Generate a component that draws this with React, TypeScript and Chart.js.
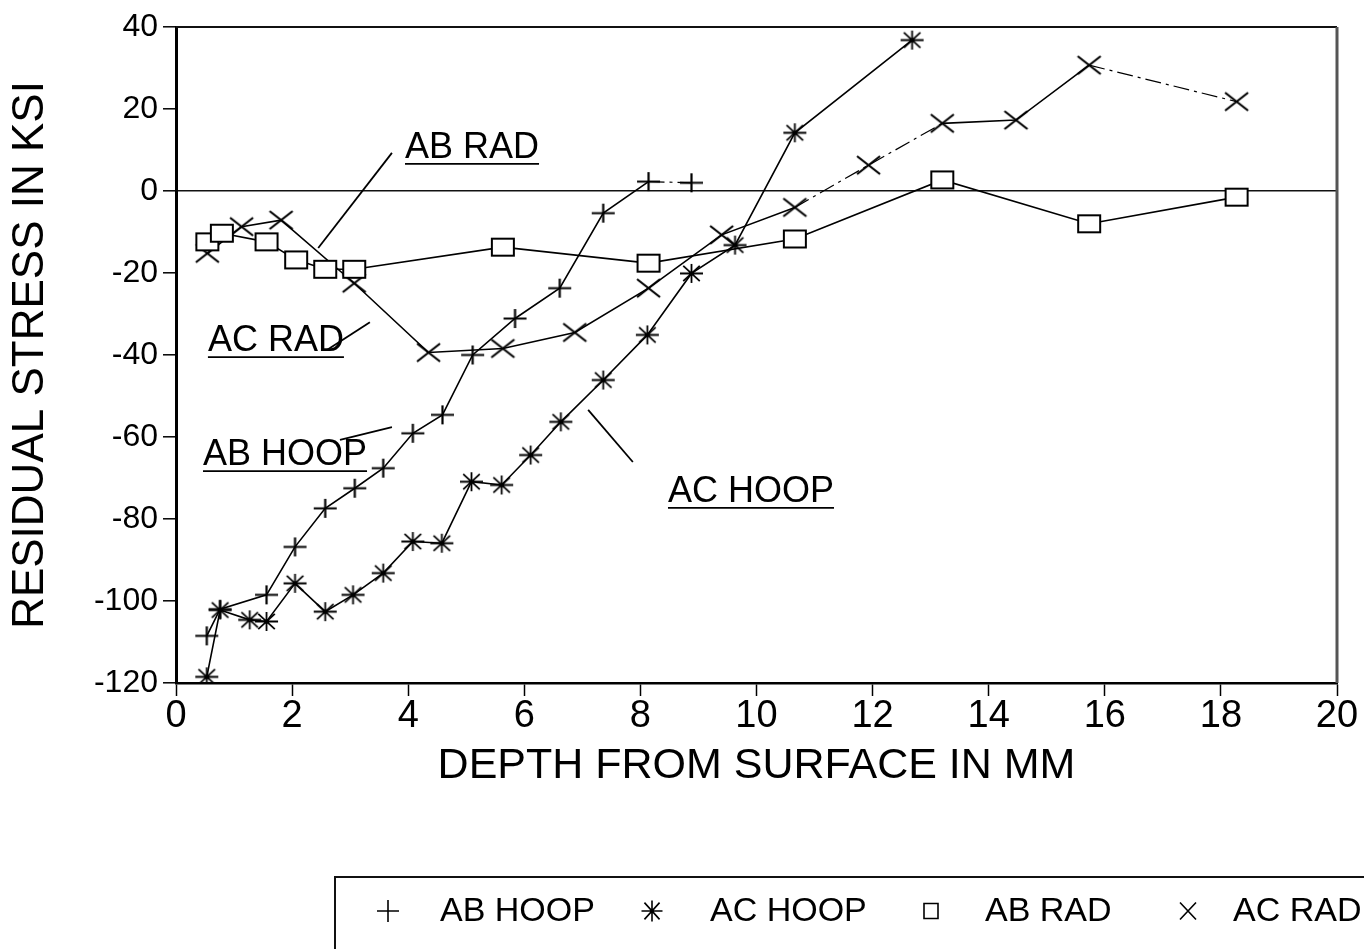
import React, { useEffect, useRef } from 'react';
import { Chart, registerables } from 'chart.js';

Chart.register(...registerables);

// ---------- data (depth in mm, residual stress in ksi) ----------
const abHoopX = [0.53, 0.76, 1.56, 2.05, 2.57, 3.08, 3.57, 4.08, 4.59, 5.11, 5.84, 6.61, 7.36, 8.14, 8.88];
const abHoopY = [-108.5, -102, -98.5, -86.8, -77.4, -72.5, -67.6, -59.1, -54.6, -40, -31.1, -23.7, -5.4, 2.3, 2.0];

const acHoopX = [0.53, 0.76, 1.27, 1.56, 2.05, 2.57, 3.05, 3.57, 4.08, 4.58, 5.09, 5.61, 6.11, 6.63, 7.36, 8.12, 8.88, 9.63, 10.66, 12.68];
const acHoopY = [-118.5, -102.2, -104.6, -105, -95.7, -102.6, -98.5, -93.2, -85.5, -85.9, -70.9, -71.7, -64.4, -56.3, -46.1, -35.1, -20.1, -13.2, 14.2, 36.8];

const abRadX = [0.54, 0.79, 1.56, 2.07, 2.57, 3.07, 5.63, 8.14, 10.66, 13.2, 15.73, 18.27];
const abRadY = [-12.4, -10.3, -12.4, -16.8, -19.1, -19.1, -13.7, -17.6, -11.7, 2.7, -8.0, -1.5];

const acRadX = [0.54, 1.13, 1.81, 3.07, 4.35, 5.63, 6.87, 8.14, 9.4, 10.66, 11.93, 13.2, 14.47, 15.73, 18.27];
const acRadY = [-15.2, -8.7, -7.1, -22.5, -39.4, -38.4, -34.5, -23.7, -10.7, -4.0, 6.3, 16.5, 17.3, 30.7, 21.8];

const seriesNames = ['AB HOOP', 'AC HOOP', 'AB RAD', 'AC RAD'];
// segments (index of start point) drawn broken/dash-dot in the source scan
const acRadDashedSegments = [9, 10, 13];
const abHoopDashedSegments = [13];

const xMin = 0;
const xMax = 20;
const xStep = 2;
const yMin = -120;
const yMax = 40;
const yStep = 20;

const xTitle = 'DEPTH FROM SURFACE IN MM';
const yTitle = 'RESIDUAL STRESS IN KSI';

// callout labels, anchored in data units
const calloutText = ['AB RAD', 'AC RAD', 'AB HOOP', 'AC HOOP'];
const calloutX = [3.945, 0.55, 0.465, 8.475];
const calloutY = [10.5, -36.6, -64.4, -73.4];
// leader lines in data units: x1, y1, x2, y2
const leaderX1 = [3.72, 2.6, 2.825, 7.1];
const leaderY1 = [9.3, -38.8, -60.7, -53.4];
const leaderX2 = [2.45, 3.34, 3.72, 7.87];
const leaderY2 = [-13.9, -32.0, -57.6, -66.1];

const FONT = "'Liberation Sans', Arial, Helvetica, sans-serif";

type Kind = 'plus' | 'star' | 'box' | 'x';

function drawGlyph(ctx: CanvasRenderingContext2D, kind: Kind, cx: number, cy: number, w: number, h: number, lw: number) {
  const l = cx - w / 2, r = cx + w / 2, t = cy - h / 2, b = cy + h / 2;
  ctx.save();
  ctx.strokeStyle = '#000';
  ctx.lineWidth = lw;
  ctx.setLineDash([]);
  ctx.beginPath();
  if (kind === 'plus') {
    ctx.moveTo(l, cy); ctx.lineTo(r, cy);
    ctx.moveTo(cx, t); ctx.lineTo(cx, b);
  } else if (kind === 'x') {
    ctx.moveTo(l, t); ctx.lineTo(r, b);
    ctx.moveTo(r, t); ctx.lineTo(l, b);
  } else if (kind === 'star') {
    ctx.moveTo(l, cy); ctx.lineTo(r, cy);
    ctx.moveTo(cx, t); ctx.lineTo(cx, b);
    const dx = w * 0.36, dy = h * 0.4;
    ctx.moveTo(cx - dx, cy - dy); ctx.lineTo(cx + dx, cy + dy);
    ctx.moveTo(cx + dx, cy - dy); ctx.lineTo(cx - dx, cy + dy);
  } else {
    ctx.fillStyle = '#fff';
    ctx.fillRect(l, t, w, h);
    ctx.rect(l, t, w, h);
  }
  ctx.stroke();
  ctx.restore();
}

function makeMarker(kind: Kind, w: number, h: number, lw: number): HTMLCanvasElement {
  const pad = 2;
  const c = document.createElement('canvas');
  c.width = w + pad * 2;
  c.height = h + pad * 2;
  const ctx = c.getContext('2d')!;
  drawGlyph(ctx, kind, c.width / 2, c.height / 2, w, h, lw);
  return c;
}

const kinds: Kind[] = ['plus', 'star', 'box', 'x'];

function pts(xs: number[], ys: number[]) {
  return xs.map((x, i) => ({ x, y: ys[i] }));
}

export default function App() {
  const ref = useRef<HTMLCanvasElement | null>(null);

  useEffect(() => {
    if (!ref.current) return;
    const markers = [
      makeMarker('plus', 23, 19, 2.2),
      makeMarker('star', 23, 19, 1.8),
      makeMarker('box', 22, 17, 2),
      makeMarker('x', 23, 18, 2.2),
    ];
    const allX = [abHoopX, acHoopX, abRadX, acRadX];
    const allY = [abHoopY, acHoopY, abRadY, acRadY];
    const dashed: number[][] = [abHoopDashedSegments, [], [], acRadDashedSegments];

    const frame = {
      id: 'frame',
      afterDatasetsDraw(chart: any) {
        const { ctx, chartArea: a } = chart;
        ctx.save();
        ctx.strokeStyle = '#111';
        ctx.lineWidth = 2;
        ctx.beginPath();
        ctx.moveTo(a.left, a.top);
        ctx.lineTo(a.right, a.top);
        ctx.stroke();
        ctx.strokeStyle = '#555';
        ctx.lineWidth = 3;
        ctx.beginPath();
        ctx.moveTo(a.right, a.top);
        ctx.lineTo(a.right, a.bottom);
        ctx.stroke();
        ctx.restore();
      },
    };

    const callouts = {
      id: 'callouts',
      afterDraw(chart: any) {
        const { ctx } = chart;
        const sx = chart.scales.x, sy = chart.scales.y;
        ctx.save();
        ctx.fillStyle = '#000';
        ctx.strokeStyle = '#000';
        ctx.font = `36px ${FONT}`;
        ctx.textBaseline = 'middle';
        ctx.textAlign = 'left';
        calloutText.forEach((t, i) => {
          const px = sx.getPixelForValue(calloutX[i]);
          const py = sy.getPixelForValue(calloutY[i]);
          ctx.fillText(t, px, py);
          const w = ctx.measureText(t).width;
          ctx.lineWidth = 1.8;
          ctx.beginPath();
          ctx.moveTo(px, py + 16);
          ctx.lineTo(px + w, py + 16);
          ctx.stroke();
          ctx.beginPath();
          ctx.moveTo(sx.getPixelForValue(leaderX1[i]), sy.getPixelForValue(leaderY1[i]));
          ctx.lineTo(sx.getPixelForValue(leaderX2[i]), sy.getPixelForValue(leaderY2[i]));
          ctx.stroke();
        });
        ctx.restore();
      },
    };

    const legendBox = {
      id: 'legendBox',
      afterDraw(chart: any) {
        const { ctx } = chart;
        ctx.save();
        ctx.strokeStyle = '#111';
        ctx.lineWidth = 2;
        ctx.beginPath();
        ctx.moveTo(335, 1000);
        ctx.lineTo(335, 877);
        ctx.lineTo(1400, 877);
        ctx.stroke();
        const cy = 911;
        const markerX = [388, 652, 931, 1188];
        const textX = [440, 710, 985, 1233];
        const mw = [22, 21, 14, 16];
        const mh = [22, 21, 15, 17];
        ctx.font = `34px ${FONT}`;
        ctx.fillStyle = '#000';
        ctx.textBaseline = 'middle';
        ctx.textAlign = 'left';
        seriesNames.forEach((n, i) => {
          drawGlyph(ctx, kinds[i], markerX[i], cy, mw[i], mh[i], 1.6);
          ctx.fillText(n, textX[i], cy + 1);
        });
        ctx.restore();
      },
    };

    const chart = new Chart(ref.current, {
      type: 'line',
      data: {
        datasets: seriesNames.map((name, i) => ({
          label: name,
          data: pts(allX[i], allY[i]),
          borderColor: '#000',
          borderWidth: 1.6,
          backgroundColor: '#fff',
          pointStyle: markers[i] as any,
          pointRadius: 10,
          showLine: true,
          fill: false,
          tension: 0,
          segment: {
            borderDash: (c: any) => (dashed[i].includes(c.p0DataIndex) ? [16, 5, 3, 5] : undefined),
            borderWidth: (c: any) => (dashed[i].includes(c.p0DataIndex) ? 1.2 : undefined),
          },
        })),
      },
      options: {
        responsive: false,
        animation: false,
        devicePixelRatio: 1,
        layout: { padding: { top: 27, right: 27, left: 0, bottom: 0 } },
        plugins: {
          legend: { display: false },
          tooltip: { enabled: false },
        },
        scales: {
          x: {
            type: 'linear',
            min: xMin,
            max: xMax,
            afterFit: (s: any) => { s.height = 266; },
            ticks: {
              stepSize: xStep,
              color: '#000',
              font: { size: 38, family: FONT },
              padding: -2,
              maxRotation: 0,
              autoSkip: false,
            },
            grid: {
              drawOnChartArea: false,
              drawTicks: true,
              tickLength: 13,
              tickColor: '#000',
              tickWidth: 1.5,
            },
            border: { display: true, color: '#000', width: 2.5 },
            title: {
              display: true,
              text: xTitle,
              color: '#000',
              font: { size: 43, family: FONT },
              padding: { top: 0, bottom: 157 },
            },
          },
          y: {
            type: 'linear',
            min: yMin,
            max: yMax,
            afterFit: (s: any) => { s.width = 176; },
            ticks: {
              stepSize: yStep,
              color: '#000',
              font: { size: 32, family: FONT },
              padding: 5,
              autoSkip: false,
            },
            grid: {
              drawOnChartArea: true,
              drawTicks: true,
              tickLength: 13,
              tickColor: '#000',
              tickWidth: 1.5,
              lineWidth: 1.6,
              color: (c: any) => (c.tick && c.tick.value === 0 ? '#111' : 'rgba(0,0,0,0)'),
            },
            border: { display: true, color: '#000', width: 3 },
            title: {
              display: true,
              text: yTitle,
              color: '#000',
              font: { size: 44, family: FONT },
              padding: { top: 4, bottom: 0 },
            },
          },
        },
      },
      plugins: [frame, callouts, legendBox],
    });
    return () => chart.destroy();
  }, []);

  return (
    <div style={{ position: 'absolute', left: 0, top: 0, width: 1364, height: 949, background: '#fff', overflow: 'hidden' }}>
      <canvas ref={ref} width={1364} height={949} />
    </div>
  );
}
